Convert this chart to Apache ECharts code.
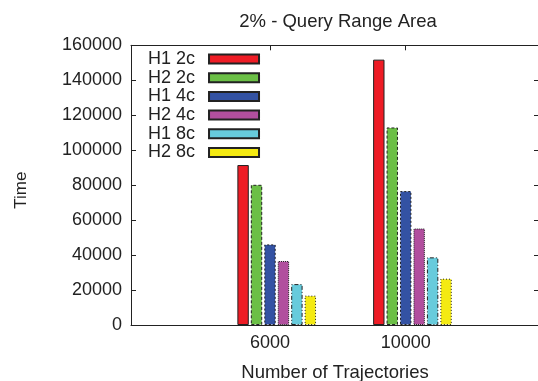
<!DOCTYPE html>
<html>
<head>
<meta charset="utf-8">
<script src="https://cdn.jsdelivr.net/npm/echarts@6/dist/echarts.min.js"></script>
<style>
  html, body { margin: 0; padding: 0; background: #fff; }
  #chart { width: 538px; height: 381px; }
</style>
</head>
<body>
<div id="chart"></div>
<script>
// Trajectory counts (cluster positions 0 and 1 on the x axis)
const categories = ['6000', '10000'];
const seriesNames = ['H1 2c', 'H2 2c', 'H1 4c', 'H2 4c', 'H1 8c', 'H2 8c'];

// Query time per configuration, one value per trajectory count
const h1_2c = [91500, 151800];
const h2_2c = [80200, 113000];
const h1_4c = [46100, 76600];
const h2_4c = [36600, 55200];
const h1_8c = [23400, 38700];
const h2_8c = [16800, 26500];

const yTicks = [0, 20000, 40000, 60000, 80000, 100000, 120000, 140000, 160000];

const FONT = "'Liberation Sans', Arial, sans-serif";
const INK = '#222';

const styles = [
  { color: '#ee1c25', borderType: 'solid' },
  { color: '#6bbf46', borderType: [3, 2] },
  { color: '#3352a3', borderType: [2, 2] },
  { color: '#b14f9e', borderType: [1, 1] },
  { color: '#67cbdc', borderType: [4, 2, 1, 2] },
  { color: '#f4ea12', borderType: [1, 2] }
];
const values = [h1_2c, h2_2c, h1_4c, h2_4c, h1_8c, h2_8c];

const series = [{
  // empty leading slot in each cluster
  name: 'gap',
  type: 'bar',
  data: [],
  barWidth: 11.4,
  barGap: '18%'
}];
seriesNames.forEach((name, i) => {
  series.push({
    name: name,
    type: 'bar',
    barWidth: 11.4,
    barGap: '18%',
    data: values[i].map((v, k) => [k, v]),
    itemStyle: {
      color: styles[i].color,
      borderColor: INK,
      borderWidth: 1,
      borderType: styles[i].borderType
    }
  });
});

const xMin = -1.024, xMax = 1.982;
const catIdx = categories.map((c, k) => k);

const chart = echarts.init(document.getElementById('chart'), null, { renderer: 'canvas' });
chart.setOption({
  animation: false,
  backgroundColor: '#fff',
  title: {
    text: '2% - Query Range Area',
    left: 333, top: 7,
    textAlign: 'center',
    textStyle: { fontFamily: FONT, fontSize: 18.5, fontWeight: 'normal', color: INK }
  },
  legend: {
    data: seriesNames,
    orient: 'vertical',
    left: 148, top: 50,
    padding: 0,
    align: 'right',
    icon: 'rect',
    itemWidth: 50, itemHeight: 9,
    itemGap: 0.7,
    textStyle: { fontFamily: FONT, fontSize: 18, color: INK, padding: [0, 9, 0, 0] }
  },
  grid: {
    left: 131, top: 45.3, bottom: 56, right: -1,
    containLabel: false,
    outerBoundsMode: 'none'
  },
  xAxis: [{
    type: 'value',
    min: xMin, max: xMax,
    position: 'bottom',
    splitLine: { show: false },
    axisLine: { show: true, onZero: false, lineStyle: { color: INK, width: 1 } },
    axisTick: { show: true, inside: true, length: 5, customValues: catIdx, lineStyle: { color: INK } },
    axisLabel: {
      customValues: catIdx,
      formatter: v => categories[Math.round(v)],
      fontFamily: FONT, fontSize: 18, color: INK, margin: 9
    },
    name: 'Number of Trajectories',
    nameLocation: 'middle',
    nameGap: 38,
    nameTextStyle: { fontFamily: FONT, fontSize: 18.5, color: INK }
  }, {
    type: 'value',
    min: xMin, max: xMax,
    position: 'top',
    splitLine: { show: false },
    axisLine: { show: true, onZero: false, lineStyle: { color: INK, width: 1 } },
    axisTick: { show: true, inside: true, length: 5, customValues: catIdx, lineStyle: { color: INK } },
    axisLabel: { show: false }
  }],
  yAxis: [{
    type: 'value',
    min: 0, max: 160000, interval: 20000,
    position: 'left',
    splitLine: { show: false },
    axisLine: { show: true, onZero: false, lineStyle: { color: INK, width: 1 } },
    axisTick: { show: true, inside: true, length: 5, lineStyle: { color: INK } },
    axisLabel: {
      customValues: yTicks,
      formatter: v => String(v),
      fontFamily: FONT, fontSize: 18, color: INK, margin: 9
    },
    name: 'Time',
    nameLocation: 'middle',
    nameRotate: 90,
    nameGap: 101,
    nameTextStyle: { fontFamily: FONT, fontSize: 17, color: INK, padding: [0, 10, 0, 0] }
  }, {
    type: 'value',
    min: 0, max: 160000, interval: 20000,
    position: 'right',
    splitLine: { show: false },
    axisLine: { show: true, onZero: false, lineStyle: { color: INK, width: 1 } },
    axisTick: { show: true, inside: true, length: 5, lineStyle: { color: INK } },
    axisLabel: { show: false }
  }],
  series: series
});
</script>
</body>
</html>
